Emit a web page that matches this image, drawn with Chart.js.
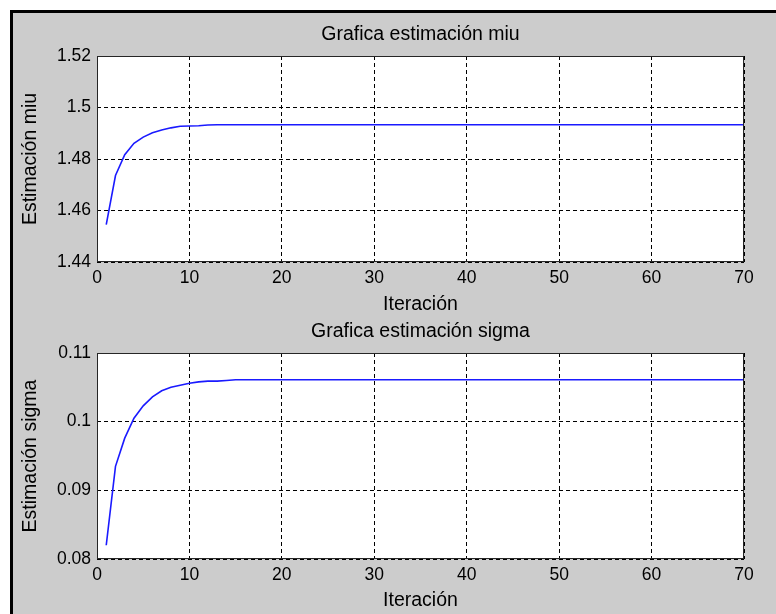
<!DOCTYPE html>
<html>
<head>
<meta charset="utf-8">
<script src="https://cdn.jsdelivr.net/npm/chart.js@4/dist/chart.umd.min.js"></script>
<style>
  html, body { margin: 0; padding: 0; background: #fff; }
  #page { position: relative; width: 776px; height: 614px; overflow: hidden; background: #fff; }
  #figure {
    position: absolute; left: 10px; top: 10px; width: 800px; height: 640px;
    background: #cccccc; border-top: 3px solid #000; border-left: 3px solid #000;
  }
  canvas { position: absolute; left: 0; }
  #miuChart { top: 0; }
  #sigmaChart { top: 297px; }
</style>
</head>
<body>
<div id="page">
  <div id="figure"></div>
  <canvas id="miuChart" width="776" height="316"></canvas>
  <canvas id="sigmaChart" width="776" height="315"></canvas>
</div>
<script>
const iterations = [
  1, 2, 3, 4, 5, 6, 7, 8, 9, 10,
  11, 12, 13, 14, 15, 16, 17, 18, 19, 20,
  21, 22, 23, 24, 25, 26, 27, 28, 29, 30,
  31, 32, 33, 34, 35, 36, 37, 38, 39, 40,
  41, 42, 43, 44, 45, 46, 47, 48, 49, 50,
  51, 52, 53, 54, 55, 56, 57, 58, 59, 60,
  61, 62, 63, 64, 65, 66, 67, 68, 69, 70,
]

const miuValues = [
  1.4545, 1.4736, 1.4817, 1.4861, 1.4885, 1.4902, 1.4913, 1.4921, 1.4927, 1.4928,
  1.4929, 1.4932, 1.4933, 1.4933, 1.4933, 1.4933, 1.4933, 1.4933, 1.4933, 1.4933,
  1.4933, 1.4933, 1.4933, 1.4933, 1.4933, 1.4933, 1.4933, 1.4933, 1.4933, 1.4933,
  1.4933, 1.4933, 1.4933, 1.4933, 1.4933, 1.4933, 1.4933, 1.4933, 1.4933, 1.4933,
  1.4933, 1.4933, 1.4933, 1.4933, 1.4933, 1.4933, 1.4933, 1.4933, 1.4933, 1.4933,
  1.4933, 1.4933, 1.4933, 1.4933, 1.4933, 1.4933, 1.4933, 1.4933, 1.4933, 1.4933,
  1.4933, 1.4933, 1.4933, 1.4933, 1.4933, 1.4933, 1.4933, 1.4933, 1.4933, 1.4933,
]

const sigmaValues = [
  0.0820, 0.0935, 0.0976, 0.1005, 0.1023, 0.1036, 0.1045, 0.1050, 0.1053, 0.1056,
  0.1058, 0.1059, 0.1059, 0.1060, 0.1061, 0.1061, 0.1061, 0.1061, 0.1061, 0.1061,
  0.1061, 0.1061, 0.1061, 0.1061, 0.1061, 0.1061, 0.1061, 0.1061, 0.1061, 0.1061,
  0.1061, 0.1061, 0.1061, 0.1061, 0.1061, 0.1061, 0.1061, 0.1061, 0.1061, 0.1061,
  0.1061, 0.1061, 0.1061, 0.1061, 0.1061, 0.1061, 0.1061, 0.1061, 0.1061, 0.1061,
  0.1061, 0.1061, 0.1061, 0.1061, 0.1061, 0.1061, 0.1061, 0.1061, 0.1061, 0.1061,
  0.1061, 0.1061, 0.1061, 0.1061, 0.1061, 0.1061, 0.1061, 0.1061, 0.1061, 0.1061,
]

const xTicks = [0, 10, 20, 30, 40, 50, 60, 70]
const xTickLabels = ['0', '10', '20', '30', '40', '50', '60', '70']
const miuTicks = [1.44, 1.46, 1.48, 1.5, 1.52]
const miuTickLabels = ['1.44', '1.46', '1.48', '1.5', '1.52']
const sigmaTicks = [0.08, 0.09, 0.1, 0.11]
const sigmaTickLabels = ['0.08', '0.09', '0.1', '0.11']

const FONT = "'Liberation Sans', Arial, sans-serif"

// fondo blanco y marco del area de la grafica (estilo matlab)
const plotBox = {
  id: 'plotBox',
  beforeDraw(chart) {
    const { ctx, chartArea: a } = chart
    ctx.save()
    ctx.fillStyle = '#ffffff'
    ctx.fillRect(a.left, a.top, a.width, a.height)
    ctx.restore()
  },
  afterDraw(chart) {
    const { ctx, chartArea: a } = chart
    ctx.save()
    ctx.strokeStyle = '#262626'
    ctx.lineWidth = 1
    ctx.strokeRect(Math.round(a.left) + 0.5, Math.round(a.top) + 0.5,
      Math.round(a.width) - 1, Math.round(a.height) - 1)
    ctx.restore()
  },
}

function makeChart(id, title, yLabel, values, yTicks, yTickLabels, xAxisHeight) {
  const points = iterations.map((it, i) => ({ x: it, y: values[i] }))
  return new Chart(document.getElementById(id), {
    type: 'line',
    data: {
      datasets: [
        {
          data: points,
          borderColor: '#1a1aff',
          borderWidth: 1.6,
          pointRadius: 0,
          tension: 0,
          fill: false,
        },
      ],
    },
    options: {
      responsive: false,
      animation: false,
      devicePixelRatio: 1,
      layout: { padding: { left: 0, right: 32, top: 0, bottom: 0 } },
      plugins: {
        legend: { display: false },
        tooltip: { enabled: false },
        title: {
          display: true,
          fullSize: false,
          text: title,
          color: '#000',
          font: { family: FONT, size: 19.5, weight: 'normal', lineHeight: 1.2 },
          padding: { top: 22.8, bottom: 9.8 },
        },
      },
      scales: {
        x: {
          type: 'linear',
          min: xTicks[0],
          max: xTicks[xTicks.length - 1],
          afterBuildTicks: scale => {
            scale.ticks = xTicks.map(v => ({ value: v }))
          },
          afterFit: scale => {
            scale.height = xAxisHeight
          },
          grid: { color: '#000', lineWidth: 1, drawTicks: false },
          border: { display: false, dash: [4, 3] },
          ticks: {
            color: '#000',
            padding: 6,
            maxRotation: 0,
            font: { family: FONT, size: 17.5, lineHeight: 1.2 },
            callback: (v, i) => xTickLabels[i],
          },
          title: {
            display: true,
            text: 'Iteración',
            color: '#000',
            font: { family: FONT, size: 19.5, lineHeight: 1.2 },
            padding: { top: 0, bottom: 0 },
          },
        },
        y: {
          type: 'linear',
          min: yTicks[0],
          max: yTicks[yTicks.length - 1],
          afterBuildTicks: scale => {
            scale.ticks = yTicks.map(v => ({ value: v }))
          },
          afterFit: scale => {
            scale.width = 97
          },
          grid: { color: '#000', lineWidth: 1, drawTicks: false },
          border: { display: false, dash: [4, 3] },
          ticks: {
            color: '#000',
            padding: 6,
            font: { family: FONT, size: 17.5, lineHeight: 1.2 },
            callback: (v, i) => yTickLabels[i],
          },
          title: {
            display: true,
            text: yLabel,
            color: '#000',
            font: { family: FONT, size: 19.5, lineHeight: 1.2 },
            padding: { top: 19.3, bottom: 0 },
          },
        },
      },
    },
    plugins: [plotBox],
  })
}

makeChart('miuChart', 'Grafica estimación miu', 'Estimación miu',
  miuValues, miuTicks, miuTickLabels, 54)
makeChart('sigmaChart', 'Grafica estimación sigma', 'Estimación sigma',
  sigmaValues, sigmaTicks, sigmaTickLabels, 53)
</script>
</body>
</html>
